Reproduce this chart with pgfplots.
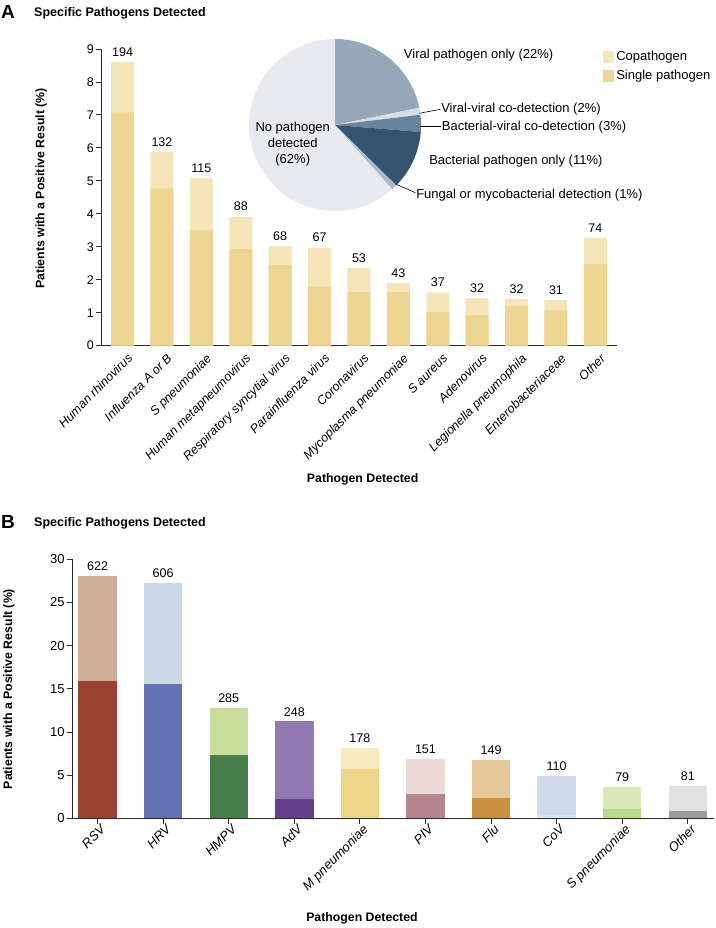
\documentclass[border=0pt]{standalone}
\usepackage{fontspec}
\setmainfont{Liberation Sans}
\usepackage{pgfplots}
\usepackage{pgfplotstable}
\pgfplotsset{compat=1.18}

\definecolor{axgray}{HTML}{2A2A2A}
\definecolor{copath}{HTML}{F5E6B9}
\definecolor{single}{HTML}{EFD592}
% pie
\definecolor{pViral}{HTML}{94A8BA}
\definecolor{pVV}{HTML}{D5DCE3}
\definecolor{pBV}{HTML}{6A849B}
\definecolor{pBact}{HTML}{36536D}
\definecolor{pFung}{HTML}{A9BBCA}
\definecolor{pNone}{HTML}{E9EAF0}
% panel B
\definecolor{rsvD}{HTML}{9A4334}\definecolor{rsvL}{HTML}{D0AE9C}
\definecolor{hrvD}{HTML}{6272B2}\definecolor{hrvL}{HTML}{CBD8E4}
\definecolor{hmpvD}{HTML}{4A7E48}\definecolor{hmpvL}{HTML}{C8DC9C}
\definecolor{advD}{HTML}{643F8B}\definecolor{advL}{HTML}{9079B1}
\definecolor{mpnD}{HTML}{EFD58A}\definecolor{mpnL}{HTML}{F7EBC1}
\definecolor{pivD}{HTML}{B38690}\definecolor{pivL}{HTML}{EBDAD5}
\definecolor{fluD}{HTML}{C9913F}\definecolor{fluL}{HTML}{E6C99B}
\definecolor{covD}{HTML}{CFE6F6}\definecolor{covL}{HTML}{CFDCE8}
\definecolor{spnD}{HTML}{BBD98D}\definecolor{spnL}{HTML}{D8E8B9}
\definecolor{othD}{HTML}{9B9B9B}\definecolor{othL}{HTML}{E1E1E1}

\newcommand{\fsz}[1]{\fontsize{#1}{#1}\selectfont}

\pgfplotstableread{
x total single count
0  8.61 7.08 194
1  5.88 4.77 132
2  5.08 3.51 115
3  3.91 2.94 88
4  3.02 2.45 68
5  2.97 1.79 67
6  2.35 1.63 53
7  1.90 1.63 43
8  1.62 1.02 37
9  1.44 0.93 32
10 1.42 1.20 32
11 1.39 1.07 31
12 3.27 2.48 74
}\dataA

\pgfplotsset{
  barbase/.style={ybar, bar shift=0pt, draw=none},
}

\begin{document}
\begin{tikzpicture}[x=1pt,y=1pt]
\path (0pt,0pt) rectangle (714pt,928pt);

% ---------------- Pie (inset) ----------------
% shares in percent: viral only, viral-viral, bacterial-viral, bacterial only, fungal, none
\pgfmathsetmacro\aA{90}
\pgfmathsetmacro\aB{\aA-3.6*21.8}
\pgfmathsetmacro\aC{\aB-3.6*1.3}
\pgfmathsetmacro\aD{\aC-3.6*3.2}
\pgfmathsetmacro\aE{\aD-3.6*11.1}
\pgfmathsetmacro\aF{\aE-3.6*1.0}
\pgfmathsetmacro\aG{\aF-3.6*61.6}
\begin{axis}[
  at={(248pt,717pt)}, anchor=south west, scale only axis,
  width=172pt, height=172pt, xmin=-1, xmax=1, ymin=-1, ymax=1,
  hide axis, clip=false,
]
\fill[pNone] (axis cs:0,0) -- ++(\aF:86pt) arc[start angle=\aF, end angle=\aG, radius=86pt] -- cycle;
\fill[pViral] (axis cs:0,0) -- ++(\aA:86pt) arc[start angle=\aA, end angle=\aB, radius=86pt] -- cycle;
\fill[pVV] (axis cs:0,0) -- ++(\aB:86pt) arc[start angle=\aB, end angle=\aC, radius=86pt] -- cycle;
\fill[pBV] (axis cs:0,0) -- ++(\aC:86pt) arc[start angle=\aC, end angle=\aD, radius=86pt] -- cycle;
\fill[pBact] (axis cs:0,0) -- ++(\aD:86pt) arc[start angle=\aD, end angle=\aE, radius=86pt] -- cycle;
\fill[pFung] (axis cs:0,0) -- ++(\aE:86pt) arc[start angle=\aE, end angle=\aF, radius=86pt] -- cycle;
\end{axis}
\begin{scope}[font=\fsz{13}]
\node[anchor=west, inner sep=0pt] at (402.7pt,873pt) {Viral pathogen only (22\%)};
\node[anchor=west, inner sep=0pt] at (440pt,819pt) {Viral-viral co-detection (2\%)};
\node[anchor=west, inner sep=0pt] at (440.7pt,801.3pt) {Bacterial-viral co-detection (3\%)};
\node[anchor=west, inner sep=0pt] at (428pt,767pt) {Bacterial pathogen only (11\%)};
\node[anchor=west, inner sep=0pt] at (415pt,733pt) {Fungal or mycobacterial detection (1\%)};
\node[align=center, inner sep=0pt, font=\fontsize{13}{16}\selectfont] at (291.7pt,784pt) {No pathogen\\detected\\(62\%)};
\end{scope}
\draw[line width=0.6pt, black] (418.3pt,814.7pt) -- (439.3pt,818.7pt);
\draw[line width=0.6pt, black] (419.3pt,802pt) -- (440pt,802pt);
\draw[line width=0.6pt, black] (395pt,743.7pt) -- (414.3pt,735.3pt);

% ---------------- Panel A ----------------
\node[anchor=west, inner sep=0pt, font=\bfseries\fsz{19}] at (0pt,916pt) {A};
\node[anchor=west, inner sep=0pt, font=\bfseries\fsz{12.5}] at (33pt,915pt) {Specific Pathogens Detected};

\begin{axis}[
  at={(100pt,582.3pt)}, anchor=south west, scale only axis,
  width=516pt, height=296.7pt,
  xmin=-0.546, xmax=12.55, ymin=0, ymax=9, enlargelimits=false,
  axis lines*=left,
  axis line style={line width=0.9pt, color=axgray},
  ytick={0,1,...,9},
  xtick={0,1,...,12},
  xticklabels={Human rhinovirus, Influenza A or B, S pneumoniae, Human metapneumovirus, Respiratory syncytial virus, Parainfluenza virus, Coronavirus, Mycoplasma pneumoniae, S aureus, Adenovirus, Legionella pneumophila, Enterobacteriaceae, Other},
  x tick style={draw=none},
  y tick style={line width=0.9pt, color=axgray},
  tick align=outside, major tick length=5.5pt,
  xticklabel style={rotate=45, anchor=north east, font=\itshape\fsz{12.5}, inner sep=1pt, yshift=-3pt, xshift=3pt},
  yticklabel style={font=\fsz{12.5}, inner sep=1.5pt},
  /pgf/number format/assume math mode=true,
  xlabel={Pathogen Detected},
  ylabel={Patients with a Positive Result (\%)},
  every axis x label/.style={at={(axis description cs:0.507,-0.449)}, anchor=center, font=\bfseries\fsz{12.3}},
  every axis y label/.style={at={(axis description cs:-0.116,0.53)}, rotate=90, anchor=center, font=\bfseries\fsz{12.3}},
  legend style={at={(axis description cs:0.973,1.0)}, anchor=north west, draw=none, fill=none,
    font=\fsz{13}, inner sep=0pt, row sep=4pt, cells={anchor=west}},
  clip=false,
]
\addplot[barbase, fill=copath, bar width=23pt,
  nodes near coords, point meta=explicit symbolic,
  every node near coord/.append style={font=\fsz{12.5}, inner sep=0pt, anchor=south, yshift=5.5pt},
  legend image code/.code={\fill[copath] (0pt,-6pt) rectangle (11pt,6pt);}]
  table[x=x, y=total, meta=count]{\dataA};
\addlegendentry{Copathogen}
\addplot[barbase, fill=single, bar width=23pt,
  legend image code/.code={\fill[single] (0pt,-6pt) rectangle (11pt,6pt);}]
  table[x=x, y=single]{\dataA};
\addlegendentry{Single pathogen}
\end{axis}

% ---------------- Panel B ----------------
\node[anchor=west, inner sep=0pt, font=\bfseries\fsz{19}] at (0pt,406.5pt) {B};
\node[anchor=west, inner sep=0pt, font=\bfseries\fsz{12.5}] at (33pt,405pt) {Specific Pathogens Detected};

\begin{axis}[
  at={(71.7pt,109.7pt)}, anchor=south west, scale only axis,
  width=641.3pt, height=259pt,
  xmin=-0.378, xmax=9.40, ymin=0, ymax=30, enlargelimits=false,
  axis lines*=left,
  axis line style={line width=0.9pt, color=axgray},
  ytick={0,5,...,30},
  xtick={0,1,...,9},
  xticklabels={RSV, HRV, HMPV, AdV, M pneumoniae, PIV, Flu, CoV, S pneumoniae, Other},
  tick style={line width=0.9pt, color=axgray},
  tick align=outside, major tick length=6pt,
  xticklabel style={rotate=45, anchor=north east, font=\itshape\fsz{13}, inner sep=1pt, xshift=3pt},
  yticklabel style={font=\fsz{13}, inner sep=2pt},
  /pgf/number format/assume math mode=true,
  xlabel={Pathogen Detected},
  ylabel={Patients with a Positive Result (\%)},
  every axis x label/.style={at={(axis description cs:0.451,-0.385)}, anchor=center, font=\bfseries\fsz{12.3}},
  every axis y label/.style={at={(axis description cs:-0.0993,0.499)}, rotate=90, anchor=center, font=\bfseries\fsz{12.3}},
  clip=false,
  tot/.style={barbase, fill=#1, bar width=38.4pt,
    nodes near coords, point meta=explicit symbolic,
    every node near coord/.append style={font=\fsz{12.5}, inner sep=0pt, anchor=south, yshift=5pt}},
  sgl/.style={barbase, fill=#1, bar width=38.4pt},
]
\addplot[tot=rsvL]  coordinates {(0,28.05) [622]};
\addplot[sgl=rsvD]  coordinates {(0,15.93)};
\addplot[tot=hrvL]  coordinates {(1,27.24) [606]};
\addplot[sgl=hrvD]  coordinates {(1,15.55)};
\addplot[tot=hmpvL] coordinates {(2,12.77) [285]};
\addplot[sgl=hmpvD] coordinates {(2,7.30)};
\addplot[tot=advL]  coordinates {(3,11.22) [248]};
\addplot[sgl=advD]  coordinates {(3,2.24)};
\addplot[tot=mpnL]  coordinates {(4,8.20) [178]};
\addplot[sgl=mpnD]  coordinates {(4,5.73)};
\addplot[tot=pivL]  coordinates {(5,6.90) [151]};
\addplot[sgl=pivD]  coordinates {(5,2.86)};
\addplot[tot=fluL]  coordinates {(6,6.78) [149]};
\addplot[sgl=fluD]  coordinates {(6,2.33)};
\addplot[tot=covL]  coordinates {(7,4.95) [110]};
\addplot[sgl=covD]  coordinates {(7,0.40)};
\addplot[tot=spnL]  coordinates {(8,3.64) [79]};
\addplot[sgl=spnD]  coordinates {(8,1.05)};
\addplot[tot=othL]  coordinates {(9,3.76) [81]};
\addplot[sgl=othD]  coordinates {(9,0.85)};
\end{axis}
\end{tikzpicture}
\end{document}
